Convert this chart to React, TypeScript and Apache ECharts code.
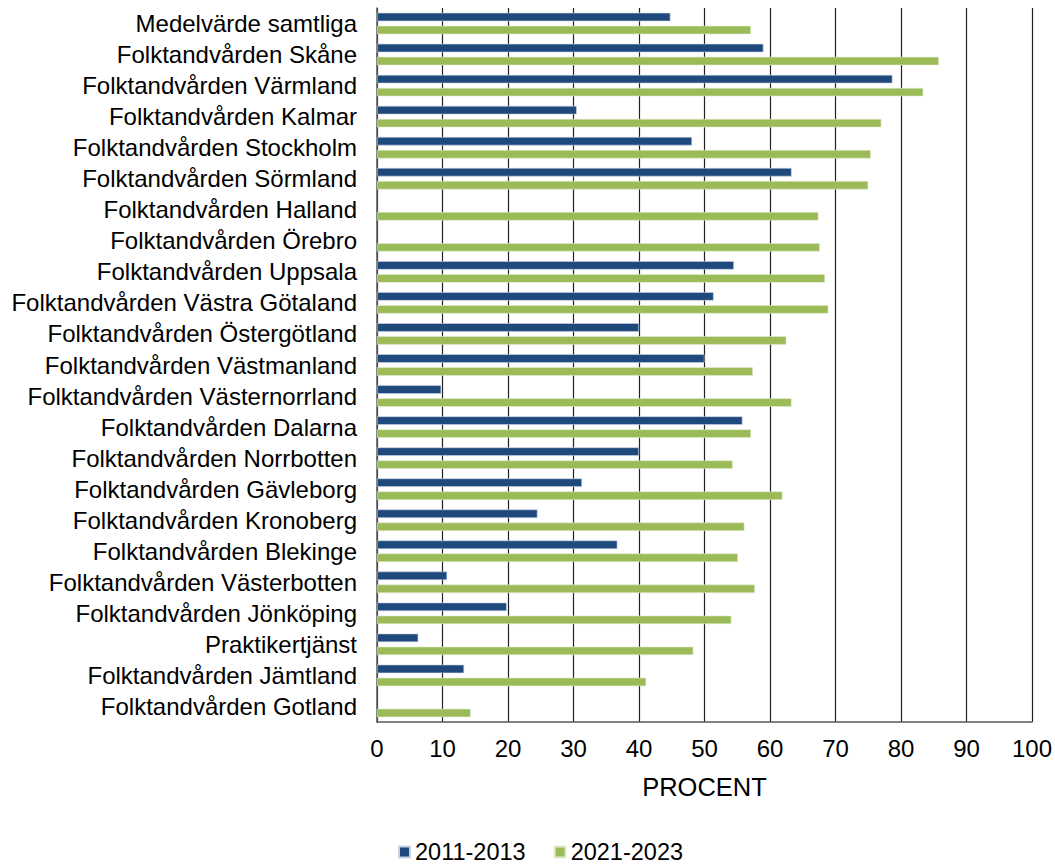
import React, { useEffect, useRef } from "react";
import * as echarts from "echarts";

const categories = [
  "Medelvärde samtliga",
  "Folktandvården Skåne",
  "Folktandvården Värmland",
  "Folktandvården Kalmar",
  "Folktandvården Stockholm",
  "Folktandvården Sörmland",
  "Folktandvården Halland",
  "Folktandvården Örebro",
  "Folktandvården Uppsala",
  "Folktandvården Västra Götaland",
  "Folktandvården Östergötland",
  "Folktandvården Västmanland",
  "Folktandvården Västernorrland",
  "Folktandvården Dalarna",
  "Folktandvården Norrbotten",
  "Folktandvården Gävleborg",
  "Folktandvården Kronoberg",
  "Folktandvården Blekinge",
  "Folktandvården Västerbotten",
  "Folktandvården Jönköping",
  "Praktikertjänst",
  "Folktandvården Jämtland",
  "Folktandvården Gotland",
];

const series2011: (number | null)[] = [
  44.8, 59.0, 78.7, 30.5, 48.1, 63.3, null, null, 54.5, 51.4, 40.0, 50.0,
  9.8, 55.8, 40.0, 31.3, 24.5, 36.7, 10.7, 19.8, 6.3, 13.3, null,
];

const series2021: number[] = [
  57.1, 85.8, 83.4, 77.0, 75.4, 75.0, 67.4, 67.6, 68.4, 68.9, 62.5, 57.4,
  63.3, 57.1, 54.3, 61.9, 56.1, 55.1, 57.7, 54.1, 48.3, 41.1, 14.3,
];

const seriesNames = ["2011-2013", "2021-2023"];
const colors = ["#1F497D", "#9BBB59"];

export default function App() {
  const ref = useRef<HTMLDivElement>(null);
  useEffect(() => {
    if (!ref.current) return;
    const chart = echarts.init(ref.current, undefined, { renderer: "svg" });
    const font = "'Liberation Sans', Arial, sans-serif";
    chart.setOption({
      animation: false,
      backgroundColor: "#ffffff",
      textStyle: { fontFamily: font },
      legend: {
        top: 840,
        left: 398,
        padding: 0,
        itemWidth: 11,
        itemHeight: 11,
        itemGap: 28,
        icon: "rect",
        textStyle: { fontSize: 23.5, color: "#000", fontFamily: font, lineHeight: 24 },
        data: seriesNames,
      },
      grid: { left: 377, right: 22, top: 8, bottom: 144 },
      xAxis: {
        type: "value",
        min: 0,
        max: 100,
        interval: 10,
        name: "PROCENT",
        nameLocation: "middle",
        nameGap: 52,
        nameTextStyle: { fontSize: 25.5, color: "#000", fontFamily: font },
        axisLine: { show: true, lineStyle: { color: "#595959", width: 1.5 } },
        axisTick: { show: false },
        axisLabel: { fontSize: 24, color: "#000", margin: 14, fontFamily: font },
        splitLine: { show: true, lineStyle: { color: "#222", width: 1.2 } },
      },
      yAxis: {
        type: "category",
        inverse: true,
        data: categories,
        axisLine: { show: true, lineStyle: { color: "#595959", width: 1.5 } },
        axisTick: { show: false },
        axisLabel: {
          interval: 0,
          fontSize: 24,
          color: "#000",
          margin: 20,
          fontFamily: font,
        },
      },
      series: [
        {
          name: seriesNames[0],
          type: "bar",
          data: series2011,
          barWidth: 8.5,
          barGap: "53%",
          itemStyle: { color: colors[0], borderColor: "#c9d3e0", borderWidth: 0.6 },
        },
        {
          name: seriesNames[1],
          type: "bar",
          data: series2021,
          barWidth: 8.5,
          itemStyle: { color: colors[1], borderColor: "#e3ecd0", borderWidth: 0.6 },
        },
      ],
    });
    return () => chart.dispose();
  }, []);
  return (
    <div
      ref={ref}
      style={{ position: "absolute", left: 0, top: 0, width: 1055, height: 866 }}
    />
  );
}
